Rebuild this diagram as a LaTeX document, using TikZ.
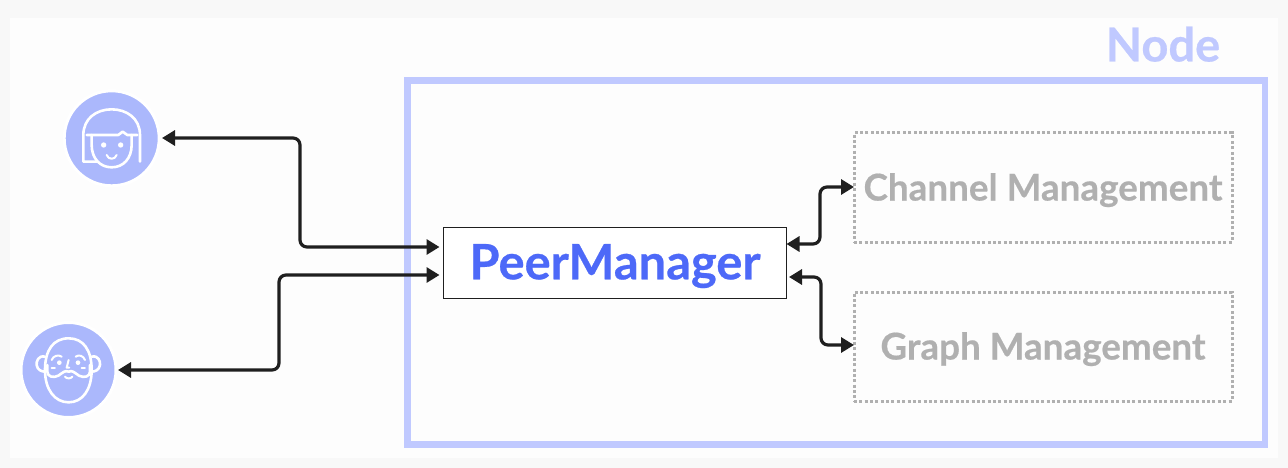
\documentclass[tikz,border=0pt]{standalone}
\usepackage{fontspec}
\setmainfont[BoldFeatures={FakeBold=0.5}]{Lato}
\usetikzlibrary{arrows.meta,calc}
\definecolor{bgout}{HTML}{F8F8F8}
\definecolor{bgin}{HTML}{FDFDFD}
\definecolor{frame}{HTML}{C0C9FF}
\definecolor{disc}{HTML}{ABB8FC}
\definecolor{pmblue}{HTML}{4D69F8}
\definecolor{greyed}{HTML}{B0B0B0}
\definecolor{ink}{HTML}{1F1F1F}
\tikzset{
  person/.style={circle,fill=disc,draw=white,line width=3pt,minimum size=95pt,inner sep=0pt},
  face/.style={draw=white,line width=2.6pt,line cap=round,line join=round},
  facefine/.style={draw=white,line width=2pt,line cap=round,line join=round},
  module/.style={draw=greyed,line width=3pt,dash pattern=on 3pt off 2.35pt,minimum width=378pt,minimum height=109pt,inner sep=0pt,text=greyed,text height=26pt,text depth=0pt,font=\bfseries\fontsize{36.8}{40}\selectfont},
  link/.style={draw=ink,line width=3.2pt,rounded corners=7pt,{Stealth[length=13pt,width=15pt,inset=0pt]}-{Stealth[length=13pt,width=15pt,inset=0pt]}},
}
\begin{document}
\begin{tikzpicture}[x=1pt,y=-1pt]
\useasboundingbox (0,0) rectangle (1288,468);
\fill[bgout] (0,0) rectangle (1288,468);
\fill[bgin] (10,18) rectangle (1278,458);
\node[draw=frame,line width=6.7pt,minimum width=857.5pt,minimum height=364pt,inner sep=0pt] (nodebox) at (836.2,262.8) {};
\node[text=frame,font=\bfseries\fontsize{47}{50}\selectfont,text height=33pt,text depth=0pt,anchor=center] (nodelabel) at (1163,45) {Node};
\node[draw=ink,line width=1pt,fill=white,minimum width=342.5pt,minimum height=70.5pt,inner sep=0pt,text=pmblue,text height=33pt,text depth=0pt,font=\bfseries\fontsize{48.8}{52}\selectfont] (pm) at (615,262.8) {PeerManager};
\node[module] (chan) at (1043,187.5) {Channel Management};
\node[module] (graph) at (1043,346.5) {Graph Management};
\node[person] (girl) at (111.7,138.3) {};
\node[person] (man) at (68.5,370) {};
\begin{scope}[shift={(50,80)},x=0.3333pt,y=-0.3333pt]
\draw[face] (140,245) -- (100,245) -- (100,165) .. controls (100,115) and (140,88) .. (185,88) .. controls (230,88) and (270,115) .. (270,165) -- (270,245);
\draw[face] (110,165) -- (205,165) -- (218,155) -- (232,165) -- (262,165);
\draw[face] (125,165) -- (125,195) .. controls (125,235) and (150,262) .. (185,262) .. controls (220,262) and (245,235) .. (245,195) -- (245,165);
\fill[white] (161,195) circle (8);
\fill[white] (212,195) circle (8);
\draw[facefine] (170,225) .. controls (175,240) and (195,240) .. (200,225);
\end{scope}
\begin{scope}[shift={(10,315)},x=0.3333pt,y=-0.3333pt]
\draw[face] (176,70) .. controls (130,70) and (105,105) .. (105,165) .. controls (105,225) and (135,262) .. (176,262) .. controls (217,262) and (245,225) .. (245,165) .. controls (245,105) and (220,70) .. (176,70);
\draw[face] (105,125) .. controls (85,120) and (78,140) .. (80,150) .. controls (82,165) and (95,170) .. (105,170);
\draw[face] (245,125) .. controls (265,120) and (272,140) .. (270,150) .. controls (268,165) and (255,170) .. (245,170);
\draw[face] (112,150) -- (112,170) .. controls (112,185) and (130,190) .. (145,182) .. controls (160,172) and (165,165) .. (176,170) .. controls (187,165) and (192,172) .. (207,182) .. controls (222,190) and (240,185) .. (240,170) -- (240,150);
\draw[facefine] (165,185) .. controls (170,192) and (182,192) .. (187,185);
\draw[facefine] (125,135) .. controls (130,122) and (145,118) .. (155,125);
\draw[facefine] (225,135) .. controls (220,122) and (207,118) .. (197,125);
\fill[white] (148,143) circle (7);
\fill[white] (204,143) circle (7);
\draw[facefine] (176,135) -- (170,158) -- (178,158);
\draw[facefine] (125,160) -- (135,160);
\draw[facefine] (215,160) -- (225,160);
\end{scope}
\coordinate (girlport) at (162,138);
\coordinate (manport) at (118,370);
\coordinate (pmwa) at (439.5,247);
\coordinate (pmwb) at (439.5,275);
\coordinate (pmea) at (786.5,244);
\coordinate (pmeb) at (789,277);
\coordinate (chanport) at (854,187);
\coordinate (graphport) at (854,345);
\draw[link] (girlport) -- (300,138) -- (300,247) -- (pmwa);
\draw[link] (manport) -- (279,370) -- (279,275) -- (pmwb);
\draw[link] (pmea) -- (820,244) -- (820,187) -- (chanport);
\draw[link] (pmeb) -- (821,277) -- (821,345) -- (graphport);
\end{tikzpicture}
\end{document}
